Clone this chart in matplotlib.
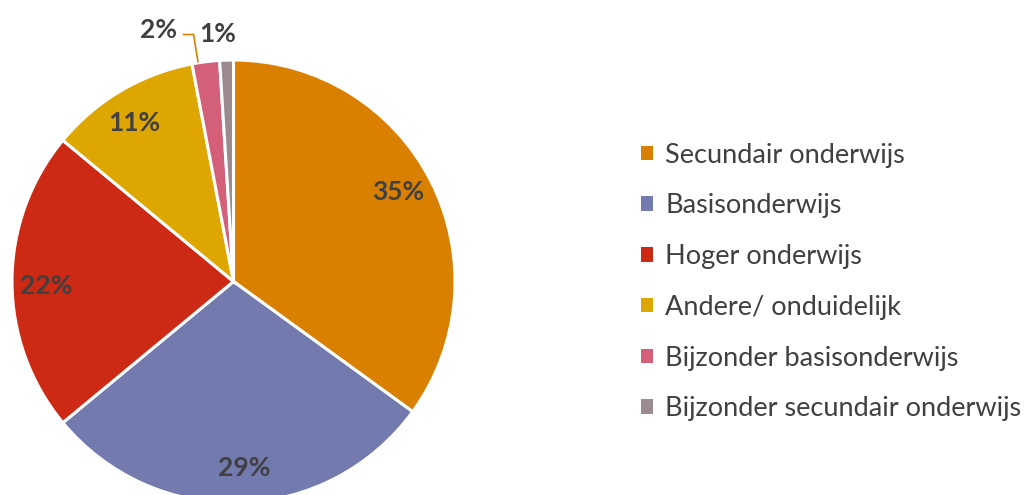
"""Pie chart: verdeling per onderwijsniveau."""

import matplotlib

matplotlib.use("Agg")
import matplotlib.pyplot as plt
import numpy as np
from matplotlib.patches import Patch

categories = [
    "Secundair onderwijs",
    "Basisonderwijs",
    "Hoger onderwijs",
    "Andere/ onduidelijk",
    "Bijzonder basisonderwijs",
    "Bijzonder secundair onderwijs",
]
shares = [35, 29, 22, 11, 2, 1]
colors = ["#D98000", "#737AAE", "#CC2A14", "#DDA600", "#D45F78", "#9B8B91"]
text_color = "#404040"

plt.rcParams["font.family"] = ["Lato", "DejaVu Sans"]

fig = plt.figure(figsize=(10.27, 4.95), dpi=100)
# pie is cut off slightly at the bottom, like the original
ax = fig.add_axes([12 / 1027, -8 / 495, 443 / 1027, 443 / 495])

wedges, _ = ax.pie(
    shares,
    colors=colors,
    startangle=90,
    counterclock=False,
    radius=1.0,
    wedgeprops=dict(edgecolor="white", linewidth=2.2),
)
ax.set_xlim(-1, 1)
ax.set_ylim(-1, 1)

label_kw = dict(ha="center", va="center", fontsize=19, fontweight="bold",
                color=text_color, clip_on=False)

# labels inside the big slices
for w, s in zip(wedges[:4], shares[:4]):
    ang = np.deg2rad((w.theta1 + w.theta2) / 2 + 1.5)
    r = 0.845
    ax.text(r * np.cos(ang), r * np.sin(ang), f"{s}%", **label_kw)

# small slices: labels outside, one with a leader line
w2 = wedges[4]
ang2 = np.deg2rad((w2.theta1 + w2.theta2) / 2)
x0, y0 = np.cos(ang2), np.sin(ang2)
ax.plot([x0 - 0.035, x0 - 0.055, x0 - 0.10], [y0, 1.115, 1.115],
        color="#D98000", linewidth=1.2, clip_on=False)
ax.text(x0 - 0.215, 1.135, f"{shares[4]}%", **label_kw)

w1 = wedges[5]
ang1 = np.deg2rad((w1.theta1 + w1.theta2) / 2)
ax.text(np.cos(ang1) - 0.04, 1.118, f"{shares[5]}%", **label_kw)

handles = [Patch(facecolor=c, edgecolor="none") for c in colors]
leg = fig.legend(
    handles,
    categories,
    loc="center left",
    bbox_to_anchor=(641 / 1027, 213 / 495),
    frameon=False,
    fontsize=19.5,
    handlelength=0.45,
    handleheight=0.45,
    handletextpad=0.45,
    labelspacing=0.95,
    borderpad=0,
    borderaxespad=0,
)
for t in leg.get_texts():
    t.set_color(text_color)

fig.savefig("out.png", dpi=100)
